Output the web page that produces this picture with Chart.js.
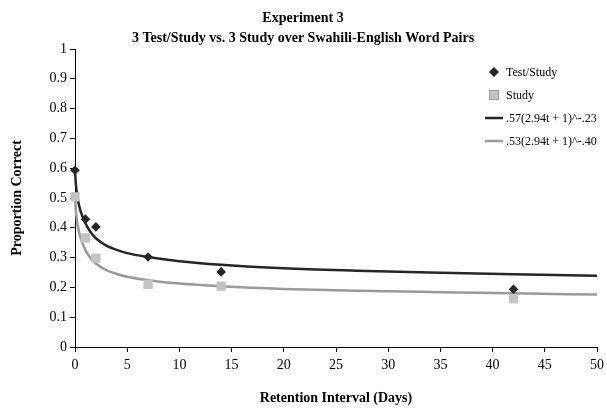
<!DOCTYPE html>
<html>
<head>
<meta charset="utf-8">
<script src="https://cdn.jsdelivr.net/npm/chart.js"></script>
<style>
  html, body { margin: 0; padding: 0; background: #fff; overflow: hidden; }
  #wrap { width: 607px; height: 411px; overflow: hidden; }
</style>
</head>
<body>
<div id="wrap"><canvas id="chart" width="620" height="411"></canvas></div>
<script>
const titleLines = ["Experiment 3", "3 Test/Study vs. 3 Study over Swahili-English Word Pairs"];
const xTitle = "Retention Interval (Days)";
const yTitle = "Proportion Correct";

// observed proportions
const days = [0, 1, 2, 7, 14, 42];
const testStudy = [0.593, 0.429, 0.403, 0.302, 0.252, 0.194];
const studyOnly = [0.504, 0.366, 0.298, 0.21, 0.204, 0.162];

// fitted curves
const fitDays = [0, 0.1, 0.25, 0.5, 1, 1.5, 2, 3, 4, 5, 7, 10, 14, 20, 27, 35, 42, 50];
const testStudyFit = [0.59, 0.54, 0.5, 0.46, 0.415, 0.385, 0.365, 0.34, 0.326, 0.315, 0.302, 0.288, 0.276, 0.264, 0.256, 0.249, 0.244, 0.239];
const studyFit = [0.505, 0.45, 0.41, 0.37, 0.325, 0.298, 0.28, 0.258, 0.245, 0.236, 0.224, 0.213, 0.204, 0.195, 0.189, 0.184, 0.18, 0.176];

const seriesLabels = ["Test/Study", "Study", ".57(2.94t + 1)^-.23", ".53(2.94t + 1)^-.40"];

const serif = "'Liberation Serif', 'Times New Roman', serif";
const toPoints = (xs, ys) => xs.map((x, i) => ({ x: x, y: ys[i] }));

const titlePlugin = {
  id: "excelTitle",
  afterDraw(chart) {
    const ctx = chart.ctx;
    ctx.save();
    ctx.fillStyle = "#000";
    ctx.font = "bold 14px " + serif;
    ctx.textAlign = "center";
    ctx.textBaseline = "middle";
    ctx.fillText(titleLines[0], 303, 18);
    ctx.fillText(titleLines[1], 303, 38);
    ctx.restore();
  }
};

const legendPlugin = {
  id: "excelLegend",
  afterDraw(chart) {
    const ctx = chart.ctx;
    const rows = [72, 95, 118, 141];
    ctx.save();
    ctx.font = "12px " + serif;
    ctx.textBaseline = "middle";
    ctx.textAlign = "left";
    chart.data.datasets.forEach((ds, i) => {
      const y = rows[i];
      if (ds.showLine) {
        ctx.strokeStyle = ds.borderColor;
        ctx.lineWidth = ds.borderWidth;
        ctx.beginPath();
        ctx.moveTo(485, y);
        ctx.lineTo(503, y);
        ctx.stroke();
      } else {
        Chart.helpers.drawPoint(ctx, {
          pointStyle: ds.pointStyle,
          radius: ds.pointRadius,
          borderWidth: 0
        }, 494, y);
        ctx.fillStyle = ds.backgroundColor;
        ctx.fill();
      }
      ctx.fillStyle = "#000";
      ctx.fillText(ds.label, 506, y + 1);
    });
    ctx.restore();
  }
};

new Chart(document.getElementById("chart"), {
  type: "scatter",
  data: {
    datasets: [
      {
        label: seriesLabels[0],
        data: toPoints(days, testStudy),
        pointStyle: "rectRot",
        pointRadius: 4.8,
        backgroundColor: "#262626",
        borderColor: "#262626",
        borderWidth: 0,
        clip: false,
        order: 0
      },
      {
        label: seriesLabels[1],
        data: toPoints(days, studyOnly),
        pointStyle: "rect",
        pointRadius: 6.6,
        backgroundColor: "#c3c3c3",
        borderColor: "#c3c3c3",
        borderWidth: 0,
        clip: false,
        order: 1
      },
      {
        label: seriesLabels[2],
        data: toPoints(fitDays, testStudyFit),
        showLine: true,
        pointRadius: 0,
        borderColor: "#262626",
        borderWidth: 2.5,
        cubicInterpolationMode: "monotone",
        clip: false,
        order: 2
      },
      {
        label: seriesLabels[3],
        data: toPoints(fitDays, studyFit),
        showLine: true,
        pointRadius: 0,
        borderColor: "#9a9a9a",
        borderWidth: 2.5,
        cubicInterpolationMode: "monotone",
        clip: false,
        order: 3
      }
    ]
  },
  options: {
    responsive: false,
    animation: false,
    layout: { padding: { top: 49, right: 23, bottom: 0, left: 0 } },
    plugins: {
      legend: { display: false },
      title: { display: false },
      tooltip: { enabled: false }
    },
    scales: {
      x: {
        type: "linear",
        min: 0,
        max: 50,
        afterFit: s => { s.height = 64; },
        ticks: { stepSize: 5, color: "#000", padding: 5, font: { family: serif, size: 14 } },
        grid: { drawOnChartArea: false, tickLength: 5, tickColor: "#000" },
        border: { color: "#000", width: 1 },
        title: {
          display: true,
          text: xTitle,
          color: "#000",
          padding: { top: 0, bottom: 4 },
          font: { family: serif, size: 14, weight: "bold" }
        }
      },
      y: {
        min: 0,
        max: 1,
        afterFit: s => { s.width = 75; },
        ticks: {
          stepSize: 0.1,
          color: "#000",
          padding: 3,
          font: { family: serif, size: 14 },
          callback: v => String(Math.round(v * 10) / 10)
        },
        grid: { drawOnChartArea: false, tickLength: 5, tickColor: "#000" },
        border: { color: "#000", width: 1 },
        title: {
          display: true,
          text: yTitle,
          color: "#000",
          padding: { top: 9, bottom: 0 },
          font: { family: serif, size: 14, weight: "bold" }
        }
      }
    }
  },
  plugins: [titlePlugin, legendPlugin]
});
</script>
</body>
</html>
